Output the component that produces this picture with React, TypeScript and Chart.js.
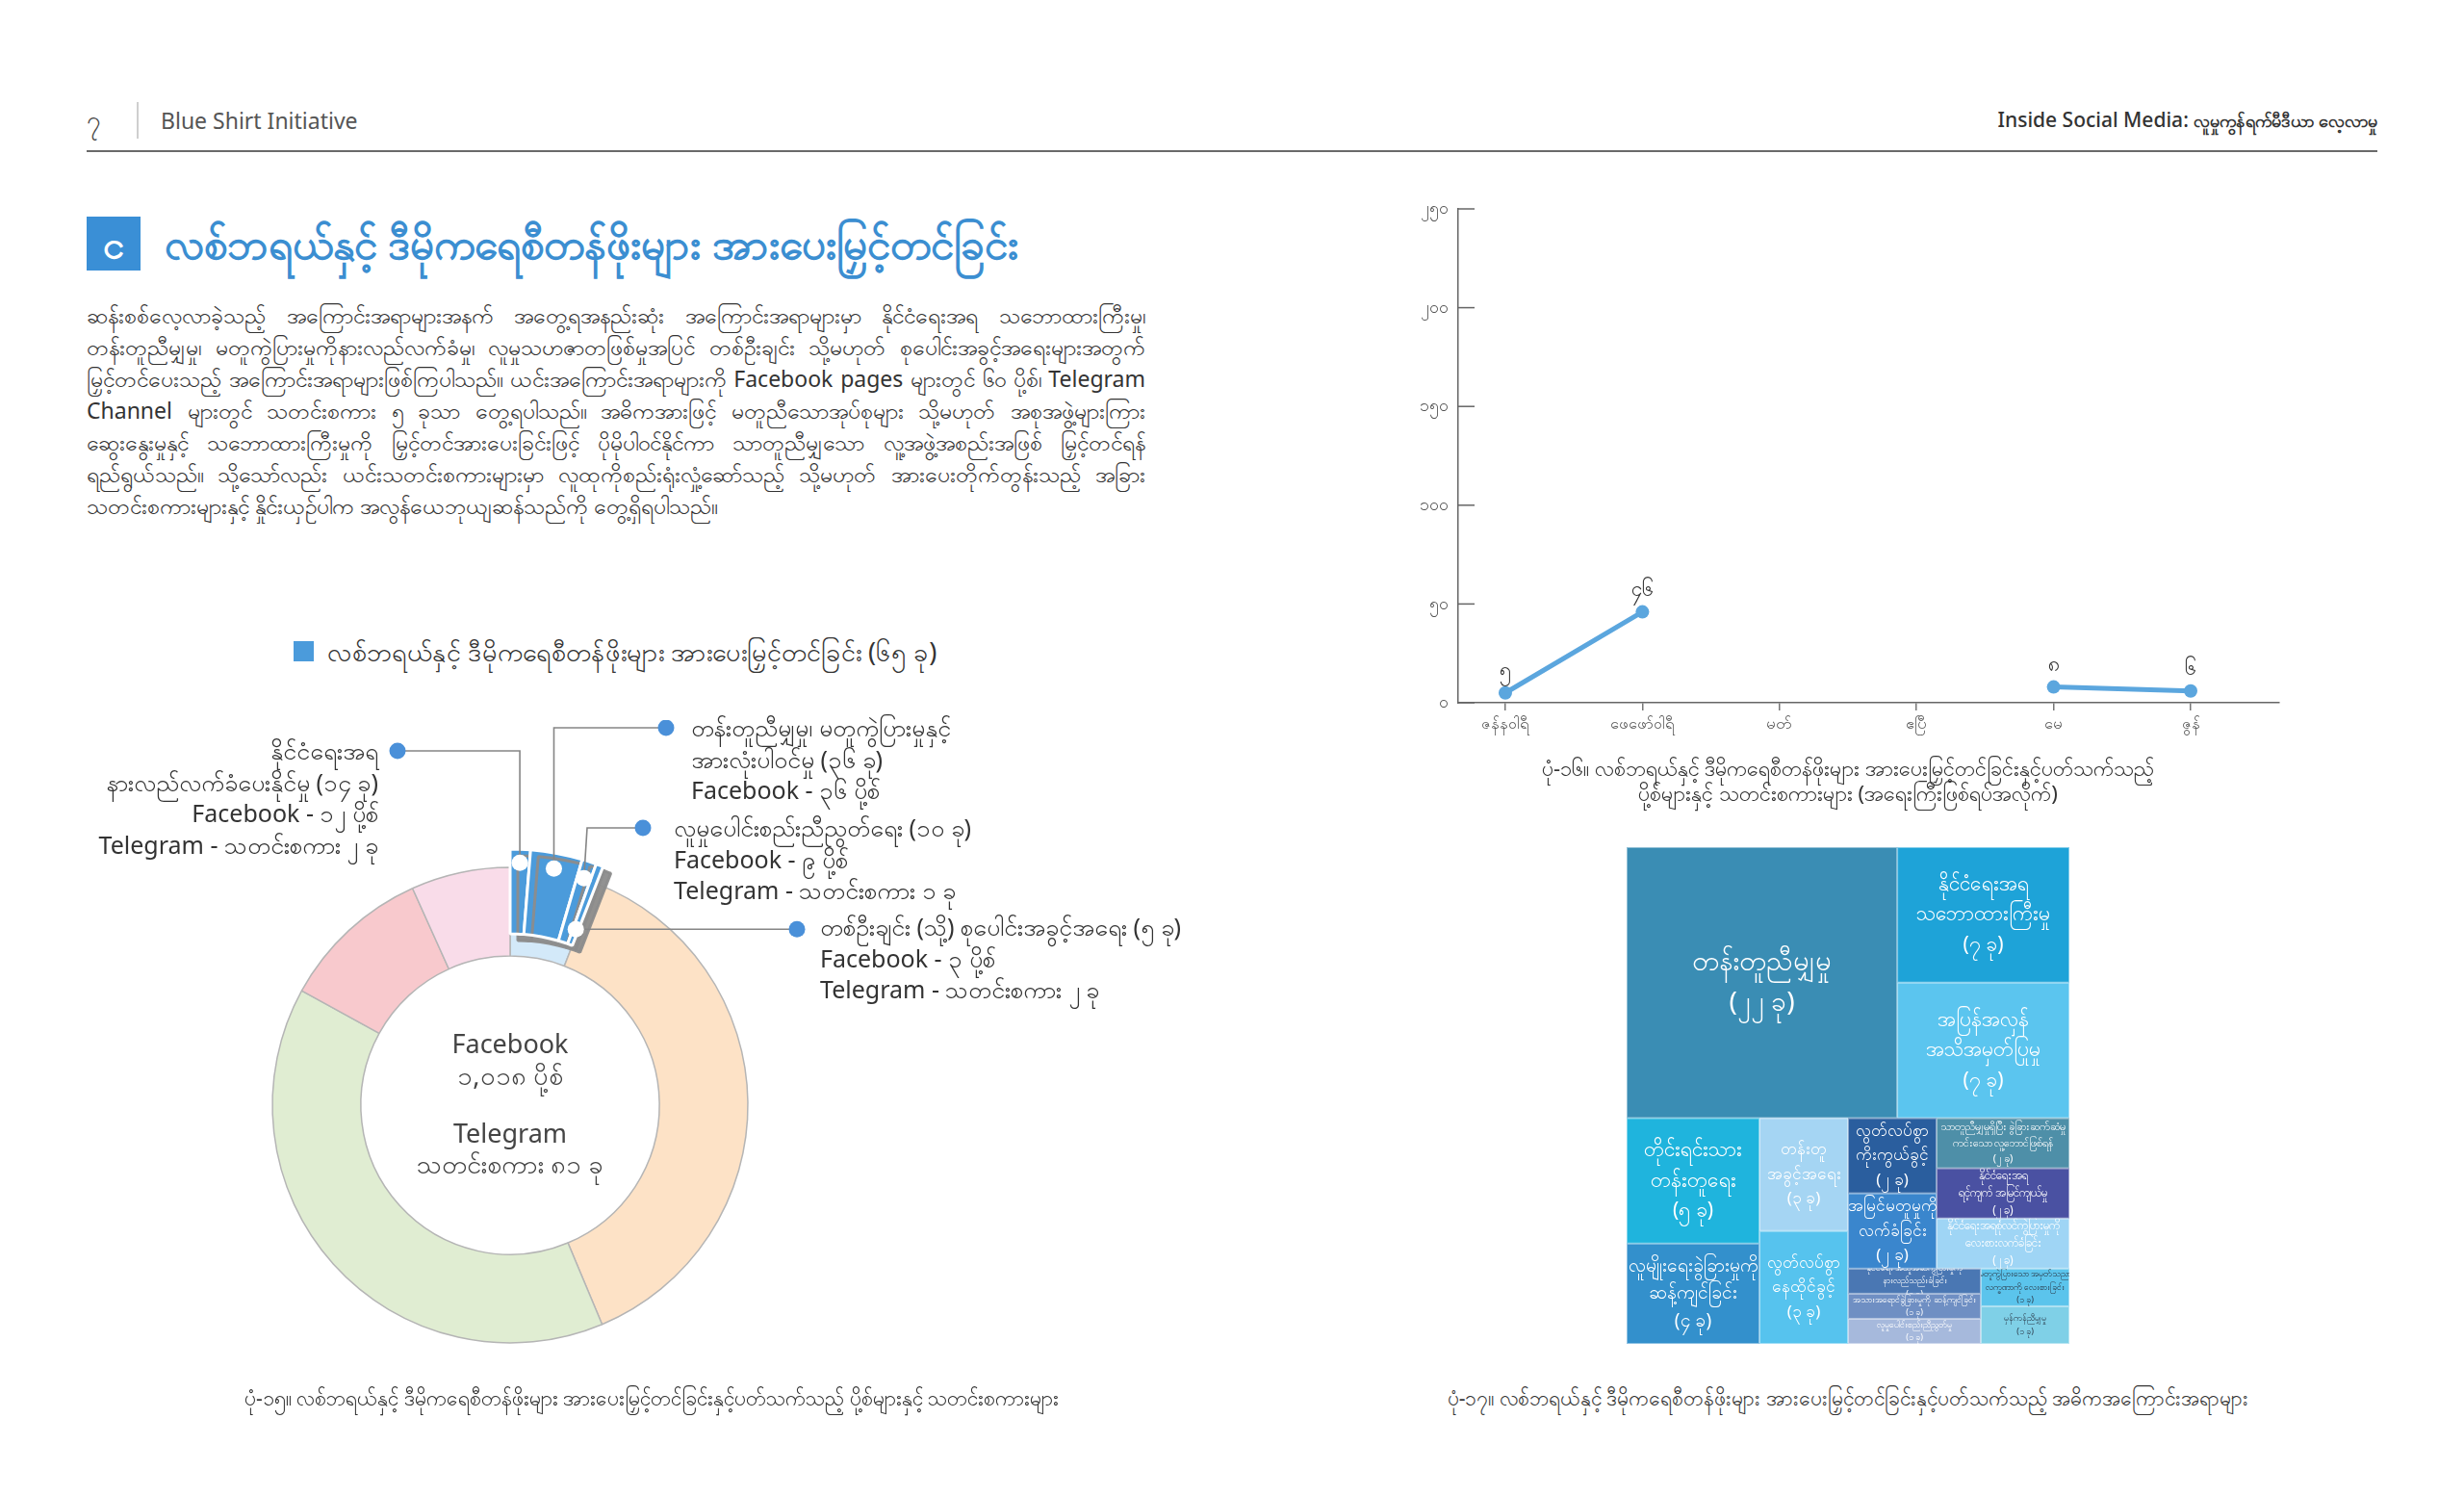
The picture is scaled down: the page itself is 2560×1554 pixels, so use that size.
import React, { useEffect, useRef } from 'react';
import { Chart, registerables } from 'chart.js';

Chart.register(...registerables);

const FONT = '"Noto Sans", "DejaVu Sans", sans-serif';
const PAGE_W = 2560;
const PAGE_H = 1554;

// ---------- Doughnut (figure 15) ----------
const RING_LABELS = [
  'လစ်ဘရယ်နှင့် ဒီမိုကရေစီတန်ဖိုးများ အားပေးမြှင့်တင်ခြင်း',
  'အခြားအကြောင်းအရာ ၁',
  'အခြားအကြောင်းအရာ ၂',
  'အခြားအကြောင်းအရာ ၃',
  'အခြားအကြောင်းအရာ ၄',
];
const RING_VALUES = [65, 415, 432, 113, 74];
const RING_COLORS = ['#d3e9f9', '#fde2c6', '#e0edd2', '#f8c9cd', '#f9dce9'];

const SUB_TITLES = [
  ['နိုင်ငံရေးအရ', 'နားလည်လက်ခံပေးနိုင်မှု'],
  ['တန်းတူညီမျှမှု၊ မတူကွဲပြားမှုနှင့်', 'အားလုံးပါဝင်မှု'],
  ['လူမှုပေါင်းစည်းညီညွတ်ရေး'],
  ['တစ်ဦးချင်း (သို့) စုပေါင်းအခွင့်အရေး'],
];
const SUB_VALUES = [14, 36, 10, 5];
const SUB_FACEBOOK = [12, 36, 9, 3];
const SUB_TELEGRAM = [2, 0, 1, 2];
const THEME_TOTAL = 65;
const FB_TOTAL = '1,018';
const TG_TOTAL = 81;

// ---------- Line chart (figure 16) ----------
const MONTHS = ['ဇန်နဝါရီ', 'ဖေဖော်ဝါရီ', 'မတ်', 'ဧပြီ', 'မေ', 'ဇွန်'];
const LINE_VALUES: (number | null)[] = [5, 46, null, null, 8, 6];
const Y_TICKS = [0, 50, 100, 150, 200, 250];

// ---------- Treemap (figure 17) ----------
const TM_LABELS = [
  'တန်းတူညီမျှမှု',
  'နိုင်ငံရေးအရ\nသဘောထားကြီးမှု',
  'အပြန်အလှန်\nအသိအမှတ်ပြုမှု',
  'တိုင်းရင်းသား\nတန်းတူရေး',
  'လူမျိုးရေးခွဲခြားမှုကို\nဆန့်ကျင်ခြင်း',
  'တန်းတူ\nအခွင့်အရေး',
  'လွတ်လပ်စွာ\nနေထိုင်ခွင့်',
  'လွတ်လပ်စွာ\nကိုးကွယ်ခွင့်',
  'အမြင်မတူမှုကို\nလက်ခံခြင်း',
  'သာတူညီမျှမှုရှိပြီး ခွဲခြားဆက်ဆံမှု\nကင်းသော လူ့ဘောင်ဖြစ်ရန်',
  'နိုင်ငံရေးအရ\nရင့်ကျက် အမြင်ကျယ်မှု',
  'နိုင်ငံရေးအရစုံလင်ကွဲပြားမှုကို\nလေးစားလက်ခံခြင်း',
  'နိုင်ငံရေး အယူအဆကွဲပြားမှုကို\nနားလည်သည်းခံခြင်း',
  'အသားအရောင်ခွဲခြားမှုကို ဆန့်ကျင်ခြင်း',
  'လူမှုပေါင်းစည်းညီညွတ်မှု',
  'မတူကွဲပြားသော အမှတ်သညာ\nလက္ခဏာကို လေးစားခြင်း',
  'မှန်ကန်ညီမျှမှု',
];
const TM_VALUES = [22, 7, 7, 5, 4, 3, 3, 2, 2, 2, 2, 2, 1, 1, 1, 1, 1];
const TM_COLORS = [
  '#3a8db4', '#1ea3d8', '#5bc5ef', '#1fb4dd', '#3390cc', '#a5d5f3', '#56c3ee',
  '#2a5e9e', '#3a86cd', '#4e8fa8', '#4a51a2', '#9fd5f5', '#4a77b3', '#6f8fc3',
  '#a6b9dc', '#5bc4ec', '#7fd0e7',
];
const TM_TEXT_COLORS = TM_VALUES.map((_, i) => (i >= 15 ? '#2b3a4a' : '#ffffff'));
const TM_FONT_SIZES = [28, 21, 21, 21, 19, 17, 17, 17, 17, 11, 12, 12, 9, 9, 9, 9, 9];

type TNode = number | { dir: 'h' | 'v'; children: TNode[] };
const TM_TREE: TNode = {
  dir: 'v',
  children: [
    { dir: 'h', children: [0, { dir: 'v', children: [1, 2] }] },
    {
      dir: 'h',
      children: [
        { dir: 'v', children: [3, 4] },
        { dir: 'v', children: [5, 6] },
        {
          dir: 'v',
          children: [
            { dir: 'h', children: [{ dir: 'v', children: [7, 8] }, { dir: 'v', children: [9, 10, 11] }] },
            { dir: 'h', children: [{ dir: 'v', children: [12, 13, 14] }, { dir: 'v', children: [15, 16] }] },
          ],
        },
      ],
    },
  ],
};

// ---------- page texts ----------
const PARAGRAPH = [
  'ဆန်းစစ်လေ့လာခဲ့သည့် အကြောင်းအရာများအနက် အတွေ့ရအနည်းဆုံး အကြောင်းအရာများမှာ နိုင်ငံရေးအရ သဘောထားကြီးမှု၊',
  'တန်းတူညီမျှမှု၊ မတူကွဲပြားမှုကိုနားလည်လက်ခံမှု၊ လူမှုသဟဇာတဖြစ်မှုအပြင် တစ်ဦးချင်း သို့မဟုတ် စုပေါင်းအခွင့်အရေးများအတွက်',
  'မြှင့်တင်ပေးသည့် အကြောင်းအရာများဖြစ်ကြပါသည်။ ယင်းအကြောင်းအရာများကို Facebook pages များတွင် ၆၀ ပို့စ်၊ Telegram',
  'Channel များတွင် သတင်းစကား ၅ ခုသာ တွေ့ရပါသည်။ အဓိကအားဖြင့် မတူညီသောအုပ်စုများ သို့မဟုတ် အစုအဖွဲ့များကြား',
  'ဆွေးနွေးမှုနှင့် သဘောထားကြီးမှုကို မြှင့်တင်အားပေးခြင်းဖြင့် ပိုမိုပါဝင်နိုင်ကာ သာတူညီမျှသော လူ့အဖွဲ့အစည်းအဖြစ် မြှင့်တင်ရန်',
  'ရည်ရွယ်သည်။ သို့သော်လည်း ယင်းသတင်းစကားများမှာ လူထုကိုစည်းရုံးလှုံ့ဆော်သည့် သို့မဟုတ် အားပေးတိုက်တွန်းသည့် အခြား',
  'သတင်းစကားများနှင့် နှိုင်းယှဉ်ပါက အလွန်ယေဘုယျဆန်သည်ကို တွေ့ရှိရပါသည်။',
];
const THEME_TITLE = 'လစ်ဘရယ်နှင့် ဒီမိုကရေစီတန်ဖိုးများ အားပေးမြှင့်တင်ခြင်း';

const toMy = (v: number | string) => String(v).replace(/\d/g, (d) => String.fromCharCode(0x1040 + Number(d)));

// ---------- layout constants (styles/positions, not data) ----------
const DN_LEFT = 0;
const DN_TOP = 748;
const DN_W = 1060;
const DN_H = 800;
const DOT_RADII = [252, 250, 248, 195];
const CALLOUTS = [
  { anchor: [413, 780], mode: 'v', tx: 393, ty: 780, align: 'right' },
  { anchor: [692, 756], mode: 'v', tx: 718, ty: 756, align: 'left' },
  { anchor: [668, 860], mode: 'd', elbowX: 610, tx: 700, ty: 860, align: 'left' },
  { anchor: [828, 963], mode: 'h', tx: 852, ty: 963, align: 'left' },
];
const LINE_COLOR = '#5ba6de';
const DOT_BLUE = '#4a90d9';

function sumNode(n: TNode): number {
  return typeof n === 'number' ? TM_VALUES[n] : n.children.reduce((a, c) => a + sumNode(c), 0);
}
function layoutNode(n: TNode, x: number, y: number, w: number, h: number, out: any[]) {
  if (typeof n === 'number') {
    out[n] = { x, y, w, h };
    return;
  }
  const total = sumNode(n);
  let off = 0;
  for (const c of n.children) {
    const f = sumNode(c) / total;
    if (n.dir === 'h') layoutNode(c, x + off * w, y, f * w, h, out);
    else layoutNode(c, x, y + off * h, w, f * h, out);
    off += f;
  }
}

function Txt(props: any) {
  const { x, y, size, align = 'left', color = '#333', weight = 400, children, extra } = props;
  const style: any = {
    position: 'absolute',
    top: y - size * 0.75,
    fontSize: size,
    lineHeight: `${size * 1.5}px`,
    color,
    fontWeight: weight,
    whiteSpace: 'nowrap',
    ...(extra || {}),
  };
  if (align === 'left') style.left = x;
  else if (align === 'right') style.right = PAGE_W - x;
  else {
    style.left = x;
    style.transform = 'translateX(-50%)';
  }
  return <div style={style}>{children}</div>;
}

export default function App() {
  const donutRef = useRef<HTMLCanvasElement>(null);
  const overlayRef = useRef<HTMLCanvasElement>(null);
  const lineRef = useRef<HTMLCanvasElement>(null);
  const tmRef = useRef<HTMLCanvasElement>(null);

  useEffect(() => {
    const charts: Chart[] = [];
    const ringTotal = RING_VALUES.reduce((a, b) => a + b, 0);
    const subTotal = SUB_VALUES.reduce((a, b) => a + b, 0);

    charts.push(
      new Chart(donutRef.current!, {
        type: 'doughnut',
        data: {
          labels: RING_LABELS,
          datasets: [
            {
              data: RING_VALUES,
              backgroundColor: RING_COLORS,
              borderColor: '#b5b5b5',
              borderWidth: 1.5,
            },
          ],
        },
        options: {
          animation: false,
          responsive: false,
          radius: 247,
          cutout: '62.8%',
          layout: { padding: 0 },
          plugins: { legend: { display: false }, tooltip: { enabled: false } },
        } as any,
      })
    );

    const shadowPlugin = {
      id: 'groupShadow',
      beforeDatasetsDraw(chart: any) {
        const ctx = chart.ctx;
        ctx.save();
        ctx.shadowColor = 'rgba(140,140,140,0.95)';
        ctx.shadowOffsetX = 8;
        ctx.shadowOffsetY = 7;
        ctx.shadowBlur = 0;
      },
      afterDatasetsDraw(chart: any) {
        chart.ctx.restore();
      },
    };
    const calloutPlugin = {
      id: 'callouts',
      afterDraw(chart: any) {
        const ctx = chart.ctx;
        const meta = chart.getDatasetMeta(0);
        const dots: number[][] = [];
        SUB_VALUES.forEach((_, i) => {
          const arc = meta.data[i];
          const p = arc.getProps(['startAngle', 'endAngle', 'x', 'y'], true);
          const a = (p.startAngle + p.endAngle) / 2;
          dots.push([p.x + Math.cos(a) * DOT_RADII[i], p.y + Math.sin(a) * DOT_RADII[i]]);
        });
        ctx.save();
        ctx.strokeStyle = '#858585';
        ctx.lineWidth = 1.6;
        const ends: number[][] = [];
        CALLOUTS.forEach((c: any, i) => {
          const [dx, dy] = dots[i];
          const ax = c.anchor[0] - DN_LEFT;
          const ay = c.anchor[1] - DN_TOP;
          ctx.beginPath();
          ctx.moveTo(dx, dy);
          if (c.mode === 'v') {
            ctx.lineTo(dx, ay);
            ctx.lineTo(ax, ay);
            ends.push([ax, ay]);
          } else if (c.mode === 'd') {
            ctx.lineTo(c.elbowX - DN_LEFT, ay);
            ctx.lineTo(ax, ay);
            ends.push([ax, ay]);
          } else {
            ctx.lineTo(ax, dy);
            ends.push([ax, dy]);
          }
          ctx.stroke();
        });
        dots.forEach(([x, y]) => {
          ctx.beginPath();
          ctx.arc(x, y, 8.5, 0, Math.PI * 2);
          ctx.fillStyle = '#ffffff';
          ctx.fill();
        });
        ends.forEach(([x, y]) => {
          ctx.beginPath();
          ctx.arc(x, y, 8.5, 0, Math.PI * 2);
          ctx.fillStyle = DOT_BLUE;
          ctx.fill();
        });
        ctx.restore();
      },
    };

    charts.push(
      new Chart(overlayRef.current!, {
        type: 'doughnut',
        data: {
          labels: [...SUB_TITLES.map((t) => t.join(' ')), ''],
          datasets: [
            {
              data: [...SUB_VALUES, ringTotal - subTotal],
              backgroundColor: [...SUB_VALUES.map(() => '#4b9bdb'), 'rgba(0,0,0,0)'],
              borderColor: [...SUB_VALUES.map(() => '#ffffff'), 'rgba(0,0,0,0)'],
              borderWidth: [...SUB_VALUES.map(() => 3), 0],
            },
          ],
        },
        options: {
          animation: false,
          responsive: false,
          radius: 266,
          cutout: `${(178 / 266) * 100}%`,
          layout: { padding: 0 },
          plugins: { legend: { display: false }, tooltip: { enabled: false } },
        } as any,
        plugins: [shadowPlugin, calloutPlugin],
      })
    );

    const lineExtras = {
      id: 'lineExtras',
      afterDraw(chart: any) {
        const ctx = chart.ctx;
        const { left } = chart.chartArea;
        const ys = chart.scales.y;
        ctx.save();
        ctx.strokeStyle = '#666';
        ctx.lineWidth = 1.5;
        Y_TICKS.forEach((v) => {
          const py = ys.getPixelForValue(v);
          ctx.beginPath();
          ctx.moveTo(left, py);
          ctx.lineTo(left + 17, py);
          ctx.stroke();
        });
        const meta = chart.getDatasetMeta(0);
        ctx.fillStyle = '#333';
        ctx.font = `21px ${FONT}`;
        ctx.textAlign = 'center';
        ctx.textBaseline = 'bottom';
        LINE_VALUES.forEach((v, i) => {
          if (v === null) return;
          const pt = meta.data[i];
          ctx.fillText(toMy(v), pt.x, pt.y - 12);
        });
        ctx.restore();
      },
    };

    charts.push(
      new Chart(lineRef.current!, {
        type: 'line',
        data: {
          datasets: [
            {
              data: LINE_VALUES.map((v, i) => ({ x: i, y: v })) as any,
              borderColor: LINE_COLOR,
              backgroundColor: LINE_COLOR,
              borderWidth: 5,
              pointRadius: 7,
              pointHoverRadius: 7,
              pointBorderWidth: 0,
              spanGaps: false,
              tension: 0,
            },
          ],
        },
        options: {
          animation: false,
          responsive: false,
          layout: { padding: { left: 0, right: 32, top: 27, bottom: 0 } },
          plugins: { legend: { display: false }, tooltip: { enabled: false } },
          scales: {
            x: {
              type: 'linear',
              min: -0.344,
              max: 5.646,
              afterBuildTicks: (s: any) => {
                s.ticks = MONTHS.map((_, i) => ({ value: i }));
              },
              afterFit: (s: any) => {
                s.height = 60;
              },
              grid: { display: true, drawOnChartArea: false, drawTicks: true, tickLength: 8, color: '#777', lineWidth: 1.5 },
              border: { display: true, color: '#666', width: 1.5 },
              ticks: {
                callback: (v: any) => MONTHS[v] ?? '',
                font: { size: 16, family: FONT },
                color: '#555',
                padding: 5,
                maxRotation: 0,
                autoSkip: false,
              },
            },
            y: {
              min: 0,
              max: 250,
              afterBuildTicks: (s: any) => {
                s.ticks = Y_TICKS.map((v) => ({ value: v }));
              },
              afterFit: (s: any) => {
                s.width = 75;
              },
              grid: { display: false, drawTicks: false },
              border: { display: true, color: '#666', width: 1.5 },
              ticks: {
                callback: (v: any) => toMy(v),
                font: { size: 18, family: FONT },
                color: '#555',
                padding: 10,
              },
            },
          },
        } as any,
        plugins: [lineExtras],
      })
    );

    const rects: any[] = [];
    layoutNode(TM_TREE, 0, 0, 1, 1, rects);
    const treemapPlugin = {
      id: 'treemapCells',
      beforeDatasetsDraw(chart: any) {
        const ctx = chart.ctx;
        const xs = chart.scales.x;
        const ys = chart.scales.y;
        ctx.save();
        rects.forEach((r, i) => {
          const x0 = xs.getPixelForValue(r.x);
          const x1 = xs.getPixelForValue(r.x + r.w);
          const y0 = ys.getPixelForValue(r.y);
          const y1 = ys.getPixelForValue(r.y + r.h);
          ctx.fillStyle = TM_COLORS[i];
          ctx.fillRect(x0, y0, x1 - x0, y1 - y0);
          ctx.strokeStyle = 'rgba(255,255,255,0.45)';
          ctx.lineWidth = 1;
          ctx.strokeRect(x0 + 0.5, y0 + 0.5, x1 - x0 - 1, y1 - y0 - 1);
          const lines = [...TM_LABELS[i].split('\n'), `(${toMy(TM_VALUES[i])} ခု)`];
          const fs = TM_FONT_SIZES[i];
          const lh = fs * 1.5;
          ctx.save();
          ctx.beginPath();
          ctx.rect(x0, y0, x1 - x0, y1 - y0);
          ctx.clip();
          ctx.fillStyle = TM_TEXT_COLORS[i];
          ctx.font = `${fs}px ${FONT}`;
          ctx.textAlign = 'center';
          ctx.textBaseline = 'middle';
          const cx = (x0 + x1) / 2;
          const cy = (y0 + y1) / 2;
          lines.forEach((ln, k) => {
            ctx.fillText(ln, cx, cy + (k - (lines.length - 1) / 2) * lh);
          });
          ctx.restore();
        });
        ctx.restore();
      },
    };
    charts.push(
      new Chart(tmRef.current!, {
        type: 'scatter',
        data: {
          datasets: [
            {
              data: rects.map((r) => ({ x: r.x + r.w / 2, y: r.y + r.h / 2 })),
              pointRadius: 0,
            },
          ],
        },
        options: {
          animation: false,
          responsive: false,
          layout: { padding: 0 },
          plugins: { legend: { display: false }, tooltip: { enabled: false } },
          scales: {
            x: { type: 'linear', min: 0, max: 1, display: false },
            y: { type: 'linear', min: 0, max: 1, reverse: true, display: false },
          },
        } as any,
        plugins: [treemapPlugin],
      })
    );

    return () => charts.forEach((c) => c.destroy());
  }, []);

  const canvasStyle = (l: number, t: number, w: number, h: number): any => ({
    position: 'absolute',
    left: l,
    top: t,
    width: w,
    height: h,
  });

  return (
    <div
      style={{
        position: 'absolute',
        left: 0,
        top: 0,
        width: PAGE_W,
        height: PAGE_H,
        overflow: 'hidden',
        background: '#ffffff',
        fontFamily: FONT,
        color: '#333',
      }}
    >
      {/* header */}
      <Txt x={97} y={124} size={26} color="#444" align="center">{toMy(7)}</Txt>
      <div style={{ position: 'absolute', left: 142, top: 106, width: 1.5, height: 38, background: '#cfcfcf' }} />
      <Txt x={167} y={125} size={23} color="#555">Blue Shirt Initiative</Txt>
      <Txt x={2470} y={125} size={21} color="#333" weight={500} align="right">
        Inside Social Media: <span style={{ fontSize: 18, fontWeight: 700 }}>လူမှုကွန်ရက်မီဒီယာ လေ့လာမှု</span>
      </Txt>
      <div style={{ position: 'absolute', left: 90, top: 156, width: 2380, height: 2, background: '#6a6a6a' }} />

      {/* section title */}
      <div
        style={{
          position: 'absolute',
          left: 90,
          top: 225,
          width: 56,
          height: 56,
          background: '#3a8fd6',
          color: '#fff',
          fontSize: 40,
          fontWeight: 700,
          lineHeight: '56px',
          textAlign: 'center',
        }}
      >
        င
      </div>
      <Txt x={171} y={252} size={44} color="#3b8ed1" weight={600}>{THEME_TITLE}</Txt>

      {/* paragraph */}
      {PARAGRAPH.map((line, i) => (
        <Txt
          key={i}
          x={90}
          y={327 + i * 33}
          size={23}
          color="#333"
          extra={{ width: 1100, textAlign: i < PARAGRAPH.length - 1 ? 'justify' : 'left', textAlignLast: i < PARAGRAPH.length - 1 ? 'justify' : 'left' }}
        >
          {line}
        </Txt>
      ))}

      {/* legend */}
      <div style={{ position: 'absolute', left: 305, top: 666, width: 21, height: 21, background: '#4b9bdb' }} />
      <Txt x={340} y={677} size={27} color="#333">
        {THEME_TITLE} ({toMy(THEME_TOTAL)} ခု)
      </Txt>

      {/* doughnut */}
      <canvas ref={donutRef} width={DN_W} height={DN_H} style={canvasStyle(DN_LEFT, DN_TOP, DN_W, DN_H)} />
      <canvas ref={overlayRef} width={DN_W} height={DN_H} style={canvasStyle(DN_LEFT, DN_TOP, DN_W, DN_H)} />

      <Txt x={530} y={1084} size={27} color="#444" align="center">Facebook</Txt>
      <Txt x={530} y={1117} size={27} color="#444" align="center">{toMy(FB_TOTAL)} ပို့စ်</Txt>
      <Txt x={530} y={1177} size={27} color="#444" align="center">Telegram</Txt>
      <Txt x={530} y={1209} size={27} color="#444" align="center">သတင်းစကား {toMy(TG_TOTAL)} ခု</Txt>

      {CALLOUTS.map((c, i) => {
        const lines: string[] = SUB_TITLES[i].slice();
        lines[lines.length - 1] = `${lines[lines.length - 1]} (${toMy(SUB_VALUES[i])} ခု)`;
        lines.push(`Facebook - ${toMy(SUB_FACEBOOK[i])} ပို့စ်`);
        if (SUB_TELEGRAM[i] > 0) lines.push(`Telegram - သတင်းစကား ${toMy(SUB_TELEGRAM[i])} ခု`);
        return lines.map((ln, k) => (
          <Txt key={`${i}-${k}`} x={c.tx} y={c.ty + k * 32.5} size={25} color="#333" align={c.align}>
            {ln}
          </Txt>
        ));
      })}

      <Txt x={677} y={1453} size={21} color="#333" align="center">
        ပုံ-၁၅။ လစ်ဘရယ်နှင့် ဒီမိုကရေစီတန်ဖိုးများ အားပေးမြှင့်တင်ခြင်းနှင့်ပတ်သက်သည့် ပို့စ်များနှင့် သတင်းစကားများ
      </Txt>

      {/* line chart */}
      <canvas ref={lineRef} width={960} height={600} style={canvasStyle(1440, 190, 960, 600)} />
      <Txt x={1920} y={797} size={22} color="#333" align="center">
        ပုံ-၁၆။ လစ်ဘရယ်နှင့် ဒီမိုကရေစီတန်ဖိုးများ အားပေးမြှင့်တင်ခြင်းနှင့်ပတ်သက်သည့်
      </Txt>
      <Txt x={1920} y={823} size={22} color="#333" align="center">
        ပို့စ်များနှင့် သတင်းစကားများ (အရေးကြီးဖြစ်ရပ်အလိုက်)
      </Txt>

      {/* treemap */}
      <canvas ref={tmRef} width={460} height={516} style={canvasStyle(1690, 880, 460, 516)} />
      <Txt x={1920} y={1453} size={21} color="#333" align="center">
        ပုံ-၁၇။ လစ်ဘရယ်နှင့် ဒီမိုကရေစီတန်ဖိုးများ အားပေးမြှင့်တင်ခြင်းနှင့်ပတ်သက်သည့် အဓိကအကြောင်းအရာများ
      </Txt>
    </div>
  );
}
